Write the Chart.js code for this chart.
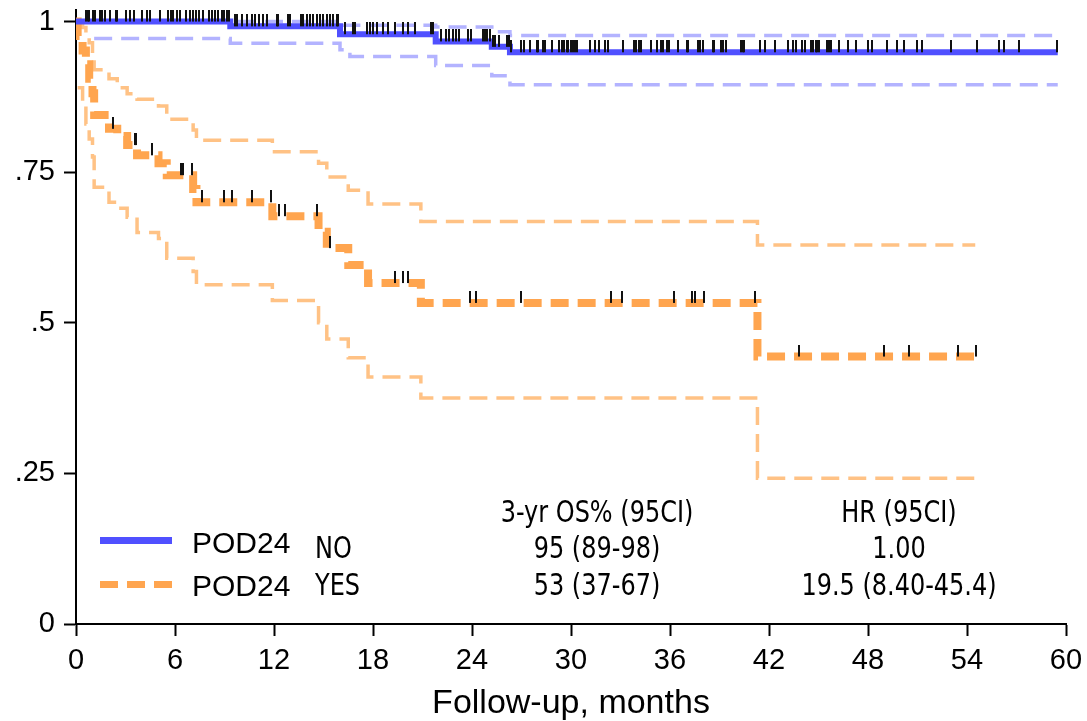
<!DOCTYPE html>
<html>
<head>
<meta charset="utf-8">
<script src="https://cdn.jsdelivr.net/npm/chart.js@4"></script>
<style>
  body { margin: 0; background: #fff; }
  #wrap { position: relative; width: 1087px; height: 721px; }
  .txt { position: absolute; line-height: 1; color: #000; white-space: nowrap; }
  .arial { font-family: 'Liberation Sans', Arial, sans-serif; font-size: 30px; }
  .narrow { font-family: 'Liberation Sans Narrow', 'DejaVu Sans Condensed', sans-serif; font-size: 31px; transform: scaleX(0.86); transform-origin: left center; }
  .col { text-align: center; width: 300px; transform-origin: center center; }
  .swatch { position: absolute; left: 100px; width: 72px; height: 7px; }
</style>
</head>
<body>
<div id="wrap">
  <canvas id="km"></canvas>

  <div class="swatch" style="top:537px; background:#5050ff;"></div>
  <div class="swatch" style="top:581px; background:repeating-linear-gradient(to right, #ffa54f 0 18px, transparent 18px 27px);"></div>
  <div class="txt arial" style="left:192px; top:527.6px;">POD24</div>
  <div class="txt arial" style="left:192px; top:570.6px;">POD24</div>
  <div class="txt narrow" style="left:315px; top:531.8px;">NO</div>
  <div class="txt narrow" style="left:315px; top:568.8px;">YES</div>

  <div class="txt narrow col" style="left:447px; top:495.8px;">3-yr OS% (95CI)</div>
  <div class="txt narrow col" style="left:447px; top:531.8px;">95 (89-98)</div>
  <div class="txt narrow col" style="left:447px; top:568.8px;">53 (37-67)</div>
  <div class="txt narrow col" style="left:749px; top:495.8px;">HR (95CI)</div>
  <div class="txt narrow col" style="left:749px; top:531.8px;">1.00</div>
  <div class="txt narrow col" style="left:749px; top:568.8px;">19.5 (8.40-45.4)</div>
</div>

<script>
// axis ticks
const xTickValues = [0, 6, 12, 18, 24, 30, 36, 42, 48, 54, 60]
const yTickValues = [0, 0.25, 0.5, 0.75, 1]
const yTickLabels = ['0', '.25', '.5', '.75', '1']

// POD24 = NO : survival steps
const noTimes = [0, 9.35, 16.0, 21.8, 25.2, 26.3, 59.5]
const noSurv = [1, 0.992, 0.979, 0.967, 0.958, 0.949, 0.949]
const noUpperTimes = [0, 16.2, 21.8, 25.2, 26.3, 59.5]
const noUpper = [1, 0.994, 0.991, 0.983, 0.977, 0.977]
const noLowerTimes = [1.1, 9.35, 16.0, 16.6, 21.8, 25.2, 26.3, 59.5]
const noLower = [0.972, 0.964, 0.953, 0.942, 0.927, 0.910, 0.895, 0.895]
const noCensored = [
    0.6, 0.7, 0.8, 1.0, 1.15, 1.45, 1.6, 1.76, 2.06, 2.42, 2.5, 3.0, 3.27, 3.52, 3.98, 4.32, 4.48,
    5.09, 5.6, 5.74, 5.9, 6.14, 6.3, 6.67, 6.9, 7.11, 7.27, 7.47, 7.68, 8.08, 8.22, 8.42, 8.63,
    8.83, 8.97, 9.17, 9.27, 9.64, 9.74, 10.04, 10.35, 10.65, 10.85, 11.11, 11.31, 11.6, 12.16,
    12.26, 12.87, 12.97, 13.62, 13.78, 13.98, 14.18, 14.38, 14.59, 14.79, 14.99, 15.19, 15.39,
    15.6, 15.8, 15.9, 16.3, 16.81, 16.91, 17.62, 17.82, 18.02, 18.22, 18.62, 18.93, 19.33, 19.84,
    20.14, 20.55, 21.5, 21.66, 22.1, 22.42, 22.63, 22.83, 23.03, 23.23, 23.78, 23.92, 24.65, 24.79,
    24.93, 25.09, 25.25, 25.39, 25.66, 26.14, 26.26, 26.35, 26.95, 27.15, 27.52, 27.92, 28.02,
    28.28, 28.42, 28.83, 29.29, 29.43, 29.58, 29.74, 29.84, 29.98, 30.1, 30.24, 30.38, 31.15,
    31.45, 31.72, 32.06, 32.26, 33.17, 33.82, 33.94, 34.14, 34.22, 34.83, 35.19, 35.44, 35.6,
    35.8, 35.96, 36.5, 37.05, 37.11, 37.72, 37.82, 38.02, 38.59, 38.67, 39.07, 39.19, 39.39,
    40.28, 40.4, 40.48, 41.45, 41.76, 42.36, 43.17, 43.43, 43.64, 43.98, 44.18, 44.53, 44.65,
    44.85, 44.93, 45.05, 45.49, 45.66, 45.74, 46.26, 46.81, 47.27, 48.02, 48.22, 49.13, 49.74,
    50.2, 50.95, 51.25, 53.03, 54.63, 55.94, 56.26, 57.13, 59.47
]

// POD24 = YES : survival steps
const yesTimes = [0, 0.1, 0.4, 0.6, 0.8, 1.0, 1.1, 2.0, 2.5, 3.1, 3.7, 5.0, 5.5, 7.1, 7.3, 11.9, 14.7, 15.2, 16.5, 17.7, 20.9, 41.3, 54.5]
const yesSurv = [1, 0.976, 0.952, 0.929, 0.905, 0.881, 0.845, 0.822, 0.81, 0.795, 0.778, 0.765, 0.745, 0.722, 0.70, 0.677, 0.651, 0.624, 0.596, 0.566, 0.533, 0.444, 0.444]
const yesUpper = [null, 0.998, 0.99, 0.98, 0.965, 0.945, 0.92, 0.905, 0.89, 0.88, 0.871, 0.86, 0.838, 0.82, 0.803, 0.784, 0.765, 0.742, 0.72, 0.697, 0.668, 0.629, 0.629]
const yesLower = [null, 0.89, 0.86, 0.83, 0.805, 0.775, 0.725, 0.70, 0.69, 0.675, 0.65, 0.64, 0.607, 0.585, 0.563, 0.537, 0.50, 0.473, 0.442, 0.41, 0.375, 0.242, 0.242]
const yesCensored = [
    2.22, 3.58, 3.66, 4.59, 6.36, 6.5, 7.05, 7.62, 8.97, 9.43, 10.65, 11.82, 12.3, 12.69, 14.63,
    15.39, 19.33, 19.8, 20.14, 23.88, 24.22, 26.95, 32.4, 33.1, 36.26, 37.35, 37.52, 38.08, 41.15,
    43.82, 48.95, 50.47, 53.45, 54.55
]

const blue = '#5050ff'
const lightBlue = '#b3b3ff'
const orange = '#ffa54f'
const lightOrange = '#ffc285'

const toPoints = (times, values) => times.map((t, i) => ({ x: t, y: values[i] }))

// survival level at a censoring time (last step at or before it)
const levelAt = (times, values, t) => {
    let level = values[0]
    times.forEach((time, i) => {
        if (time <= t && values[i] !== null) level = values[i]
    })
    return level
}

// censor mark: black stroke sitting on top of the curve
const tickMark = document.createElement('canvas')
tickMark.width = 2
tickMark.height = 24
let tctx = tickMark.getContext('2d')
tctx.fillStyle = '#111'
tctx.fillRect(0, 0, 2, 12)

const stepLine = (data, color, width, dash, order) => ({
    data: data,
    borderColor: color,
    borderWidth: width,
    borderDash: dash,
    borderCapStyle: 'butt',
    stepped: 'before',
    pointRadius: 0,
    fill: false,
    order: order
})

const censorSet = (times, values, censored) => ({
    data: censored.map(t => ({ x: t, y: levelAt(times, values, t) })),
    showLine: false,
    pointStyle: tickMark,
    pointRadius: 3,
    order: 0
})

let ctx = document.getElementById('km')
new Chart(ctx, {
    type: 'line',
    data: {
        datasets: [
            censorSet(noTimes, noSurv, noCensored),
            censorSet(yesTimes, yesSurv, yesCensored),
            stepLine(toPoints(noTimes, noSurv), blue, 6, [], 1),
            stepLine(toPoints(yesTimes, yesSurv), orange, 8, [18, 9], 1),
            stepLine(toPoints(noUpperTimes, noUpper), lightBlue, 3.5, [18, 9], 2),
            stepLine(toPoints(noLowerTimes, noLower), lightBlue, 3.5, [18, 9], 2),
            stepLine(toPoints(yesTimes, yesUpper), lightOrange, 3.5, [18, 9], 2),
            stepLine(toPoints(yesTimes, yesLower), lightOrange, 3.5, [18, 9], 2),
        ],
    },
    options: {
        responsive: true,
        maintainAspectRatio: false,
        animation: false,
        events: [],
        layout: { padding: { top: 9.5, right: 21, left: 0, bottom: 0 } },
        plugins: {
            legend: { display: false },
            tooltip: { enabled: false },
        },
        scales: {
            x: {
                type: 'linear',
                min: 0,
                max: 60,
                afterBuildTicks: (scale) => {
                    scale.ticks = xTickValues.map(v => ({ value: v }))
                },
                afterFit: (scale) => {
                    scale.height = 97
                    scale.paddingLeft = 0
                    scale.paddingRight = 0
                },
                ticks: {
                    color: '#000',
                    padding: 10,
                    maxRotation: 0,
                    font: { family: "'Liberation Sans', Arial, sans-serif", size: 29, lineHeight: 1 },
                },
                grid: { drawOnChartArea: false, drawTicks: true, tickLength: 12, tickWidth: 2, tickColor: '#000', color: '#000' },
                border: { display: true, color: '#000', width: 2 },
                title: {
                    display: true,
                    text: 'Follow-up, months',
                    color: '#000',
                    padding: { top: 0, bottom: 0 },
                    font: { family: "'Liberation Sans', Arial, sans-serif", size: 34, lineHeight: 1 },
                },
            },
            y: {
                type: 'linear',
                min: 0,
                max: 1.02,
                afterBuildTicks: (scale) => {
                    scale.ticks = yTickValues.map(v => ({ value: v }))
                },
                afterFit: (scale) => {
                    scale.width = 76
                    scale.paddingTop = 0
                    scale.paddingBottom = 0
                },
                ticks: {
                    color: '#000',
                    padding: 9,
                    callback: (value) => yTickLabels[yTickValues.indexOf(value)],
                    font: { family: "'Liberation Sans', Arial, sans-serif", size: 29, lineHeight: 1 },
                },
                grid: { drawOnChartArea: false, drawTicks: true, tickLength: 12, tickWidth: 2, tickColor: '#000', color: '#000' },
                border: { display: true, color: '#000', width: 2 },
            },
        },
    },
})
</script>
</body>
</html>
